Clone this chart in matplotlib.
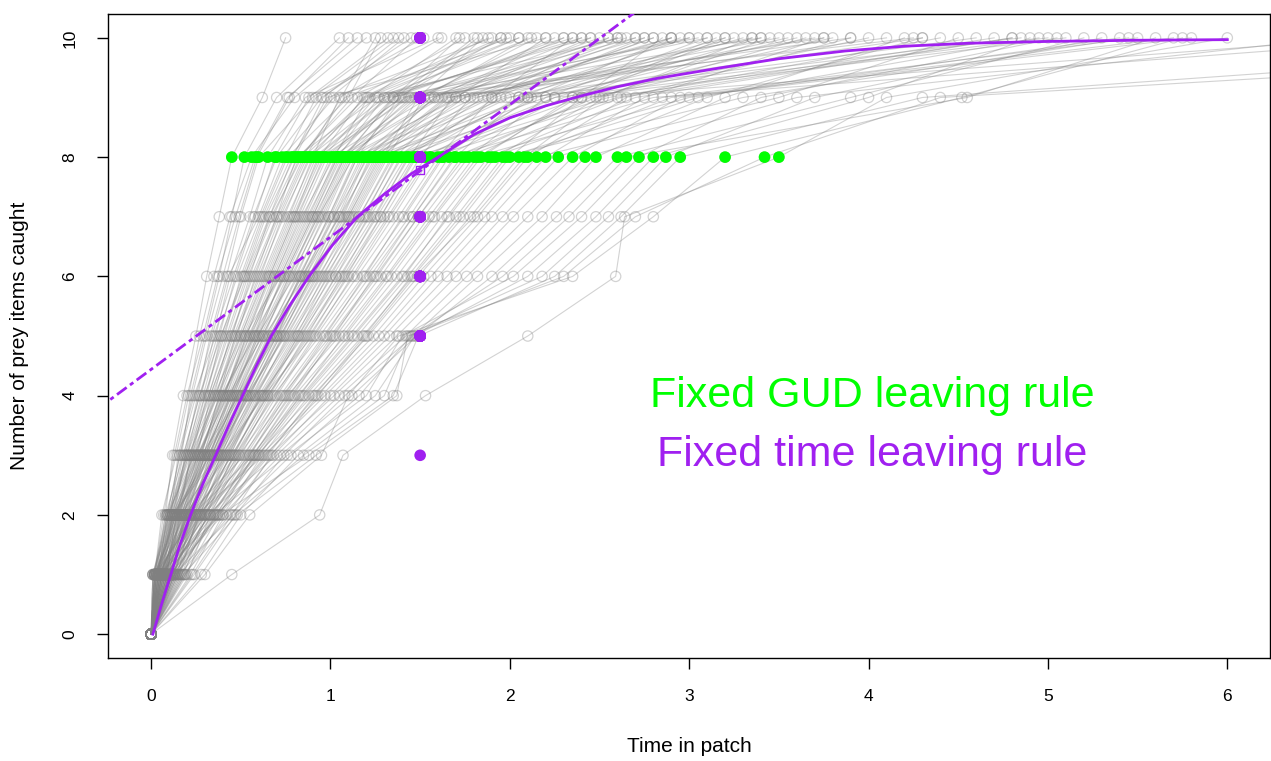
import numpy as np
import matplotlib
matplotlib.use("Agg")
import matplotlib.pyplot as plt

plt.rcParams['font.family'] = ['Liberation Sans', 'DejaVu Sans']

# capture times (time in patch at which item 1..10 was caught), one row per forager
capture_times = [
    [0.03, 0.08, 0.12, 0.18, 0.25, 0.31, 0.38, 0.45, 0.62, 0.75],
    [0.05, 0.10, 0.17, 0.22, 0.30, 0.38, 0.45, 0.52, 0.70, 1.05],
    [0.02, 0.06, 0.14, 0.21, 0.27, 0.35, 0.44, 0.56, 0.80, 1.20],
    [0.08, 0.13, 0.19, 0.26, 0.33, 0.42, 0.50, 0.60, 0.90, 1.35],
    [0.04, 0.11, 0.15, 0.24, 0.36, 0.44, 0.55, 0.65, 0.86, 1.60],
    [0.06, 0.12, 0.20, 0.28, 0.35, 0.46, 0.57, 0.70, 0.95, 1.45],
    [0.01, 0.09, 0.16, 0.25, 0.34, 0.43, 0.60, 0.73, 1.02, 1.90],
    [0.10, 0.16, 0.22, 0.30, 0.41, 0.50, 0.62, 0.76, 1.10, 1.28],
    [0.03, 0.14, 0.23, 0.31, 0.39, 0.52, 0.64, 0.80, 0.98, 2.20],
    [0.07, 0.15, 0.26, 0.33, 0.45, 0.55, 0.66, 0.82, 1.15, 1.75],
    [0.05, 0.12, 0.25, 0.36, 0.48, 0.58, 0.70, 0.85, 1.20, 2.05],
    [0.12, 0.18, 0.28, 0.38, 0.47, 0.60, 0.74, 0.88, 1.30, 2.40],
    [0.02, 0.10, 0.21, 0.35, 0.50, 0.63, 0.77, 0.90, 1.05, 1.62],
    [0.09, 0.20, 0.30, 0.42, 0.53, 0.66, 0.80, 0.93, 1.40, 2.60],
    [0.04, 0.13, 0.27, 0.40, 0.55, 0.68, 0.82, 0.96, 1.25, 1.98],
    [0.15, 0.22, 0.33, 0.44, 0.57, 0.70, 0.85, 1.00, 1.55, 3.10],
    [0.06, 0.17, 0.29, 0.41, 0.52, 0.72, 0.88, 1.03, 1.35, 2.30],
    [0.03, 0.11, 0.24, 0.39, 0.58, 0.74, 0.90, 1.06, 1.62, 2.75],
    [0.11, 0.19, 0.32, 0.46, 0.60, 0.76, 0.93, 1.08, 1.45, 3.40],
    [0.08, 0.16, 0.26, 0.43, 0.62, 0.78, 0.95, 1.10, 1.50, 2.15],
    [0.02, 0.14, 0.31, 0.45, 0.59, 0.80, 0.97, 1.12, 1.70, 2.90],
    [0.13, 0.24, 0.35, 0.48, 0.64, 0.82, 1.00, 1.15, 1.38, 1.95],
    [0.05, 0.18, 0.30, 0.50, 0.66, 0.84, 1.02, 1.18, 1.80, 3.70],
    [0.07, 0.21, 0.34, 0.47, 0.63, 0.86, 1.05, 1.20, 1.58, 2.50],
    [0.10, 0.23, 0.37, 0.52, 0.68, 0.88, 1.07, 1.22, 1.90, 2.35],
    [0.04, 0.15, 0.28, 0.49, 0.70, 0.90, 1.08, 1.25, 1.65, 4.10],
    [0.16, 0.26, 0.39, 0.54, 0.72, 0.91, 1.10, 1.27, 1.75, 2.65],
    [0.01, 0.12, 0.33, 0.51, 0.69, 0.87, 1.12, 1.30, 2.00, 3.20],
    [0.09, 0.25, 0.40, 0.56, 0.74, 0.93, 1.14, 1.32, 1.52, 2.10],
    [0.06, 0.20, 0.36, 0.53, 0.75, 0.95, 1.16, 1.35, 2.10, 4.60],
    [0.14, 0.27, 0.42, 0.58, 0.77, 0.97, 1.18, 1.37, 1.85, 2.80],
    [0.03, 0.17, 0.38, 0.57, 0.78, 0.99, 1.20, 1.40, 1.95, 3.00],
    [0.11, 0.29, 0.44, 0.60, 0.80, 1.01, 1.22, 1.42, 2.25, 5.00],
    [0.07, 0.22, 0.41, 0.62, 0.82, 1.03, 1.24, 1.44, 1.68, 2.45],
    [0.18, 0.31, 0.46, 0.64, 0.83, 1.05, 1.26, 1.46, 2.05, 3.55],
    [0.05, 0.19, 0.43, 0.61, 0.85, 1.07, 1.28, 1.48, 2.40, 6.80],
    [0.12, 0.28, 0.47, 0.66, 0.86, 1.08, 1.30, 1.50, 1.78, 2.70],
    [0.08, 0.24, 0.45, 0.65, 0.88, 1.10, 1.32, 1.53, 2.15, 3.30],
    [0.02, 0.16, 0.39, 0.63, 0.90, 1.13, 1.35, 1.56, 2.60, 4.40],
    [0.20, 0.33, 0.50, 0.70, 0.92, 1.15, 1.38, 1.60, 1.90, 2.55],
    [0.10, 0.30, 0.48, 0.68, 0.94, 1.18, 1.41, 1.63, 2.30, 3.80],
    [0.04, 0.21, 0.52, 0.72, 0.96, 1.20, 1.44, 1.66, 2.80, 7.20],
    [0.15, 0.35, 0.55, 0.75, 0.98, 1.22, 1.46, 1.70, 2.05, 2.95],
    [0.06, 0.26, 0.49, 0.73, 1.00, 1.25, 1.49, 1.73, 2.45, 4.00],
    [0.13, 0.32, 0.54, 0.78, 1.03, 1.28, 1.52, 1.77, 2.20, 3.60],
    [0.09, 0.27, 0.51, 0.76, 1.05, 1.31, 1.55, 1.80, 3.00, 5.40],
    [0.03, 0.23, 0.57, 0.80, 1.08, 1.34, 1.58, 1.84, 2.35, 3.15],
    [0.17, 0.36, 0.58, 0.82, 1.10, 1.37, 1.62, 1.88, 2.70, 4.80],
    [0.11, 0.34, 0.56, 0.84, 1.12, 1.40, 1.66, 1.92, 2.50, 3.45],
    [0.07, 0.29, 0.60, 0.86, 1.15, 1.43, 1.70, 1.96, 3.30, 5.45],
    [0.22, 0.40, 0.62, 0.88, 1.18, 1.46, 1.74, 2.00, 2.40, 2.85],
    [0.05, 0.28, 0.59, 0.90, 1.21, 1.49, 1.78, 2.05, 2.90, 5.70],
    [0.14, 0.37, 0.64, 0.92, 1.24, 1.52, 1.82, 2.10, 2.65, 3.90],
    [0.09, 0.33, 0.61, 0.95, 1.27, 1.56, 1.86, 2.15, 3.50, 4.50],
    [0.02, 0.25, 0.63, 0.97, 1.30, 1.60, 1.90, 2.20, 2.75, 3.75],
    [0.19, 0.42, 0.68, 1.00, 1.33, 1.65, 1.96, 2.27, 3.10, 4.30],
    [0.12, 0.38, 0.66, 1.02, 1.37, 1.70, 2.02, 2.35, 2.95, 5.80],
    [0.06, 0.31, 0.70, 1.05, 1.42, 1.76, 2.10, 2.42, 3.60, 6.60],
    [0.24, 0.47, 0.74, 1.08, 1.46, 1.82, 2.18, 2.48, 3.20, 4.20],
    [0.10, 0.40, 0.72, 1.12, 1.48, 1.90, 2.26, 2.60, 3.90, 5.20],
    [0.16, 0.44, 0.78, 1.16, 1.45, 1.96, 2.33, 2.65, 4.55, 5.60],
    [0.08, 0.35, 0.76, 1.20, 1.40, 2.02, 2.40, 2.72, 3.40, 5.05],
    [0.28, 0.50, 0.82, 1.25, 1.47, 2.10, 2.48, 2.80, 4.00, 4.90],
    [0.13, 0.46, 0.85, 1.30, 1.44, 2.18, 2.55, 2.87, 3.70, 5.30],
    [0.04, 0.39, 0.88, 1.35, 1.49, 2.25, 2.62, 2.95, 4.30, 9.00],
    [0.30, 0.55, 0.95, 1.10, 1.38, 2.35, 2.80, 3.20, 4.52, 5.75],
    [0.45, 0.94, 1.07, 1.53, 2.10, 2.59, 2.64, 3.50, 4.10, 6.00],
    [0.18, 0.48, 0.92, 1.37, 1.43, 2.30, 2.70, 3.42, 4.40, 10.0],
    [0.02, 0.07, 0.13, 0.20, 0.29, 0.37, 0.47, 0.58, 0.76, 1.15],
    [0.06, 0.11, 0.18, 0.27, 0.37, 0.48, 0.61, 0.75, 0.92, 1.52],
    [0.04, 0.09, 0.20, 0.32, 0.42, 0.53, 0.67, 0.84, 1.08, 2.00],
    [0.09, 0.14, 0.24, 0.34, 0.46, 0.59, 0.72, 0.87, 1.22, 1.70],
    [0.01, 0.10, 0.22, 0.37, 0.49, 0.62, 0.76, 0.91, 1.32, 2.35],
    [0.07, 0.17, 0.27, 0.39, 0.51, 0.65, 0.79, 0.94, 1.18, 1.88],
    [0.11, 0.20, 0.31, 0.43, 0.56, 0.69, 0.83, 0.98, 1.42, 3.00],
    [0.03, 0.13, 0.26, 0.40, 0.54, 0.71, 0.86, 1.01, 1.27, 2.12],
    [0.05, 0.18, 0.29, 0.45, 0.60, 0.73, 0.89, 1.04, 1.60, 2.55],
    [0.13, 0.22, 0.34, 0.47, 0.61, 0.77, 0.92, 1.07, 1.36, 1.80],
    [0.02, 0.15, 0.30, 0.44, 0.62, 0.79, 0.94, 1.09, 1.72, 3.50],
    [0.08, 0.19, 0.35, 0.50, 0.65, 0.81, 0.96, 1.11, 1.48, 2.25],
    [0.04, 0.16, 0.32, 0.48, 0.67, 0.83, 0.99, 1.14, 1.88, 2.80],
    [0.10, 0.24, 0.38, 0.53, 0.70, 0.85, 1.01, 1.17, 1.56, 2.40],
    [0.06, 0.21, 0.36, 0.55, 0.71, 0.88, 1.04, 1.19, 1.98, 4.30],
    [0.15, 0.27, 0.41, 0.57, 0.73, 0.89, 1.06, 1.23, 1.64, 2.60],
    [0.03, 0.12, 0.37, 0.54, 0.74, 0.92, 1.09, 1.26, 2.20, 3.10],
    [0.12, 0.26, 0.43, 0.59, 0.76, 0.94, 1.11, 1.29, 1.49, 1.85],
    [0.05, 0.20, 0.40, 0.58, 0.79, 0.96, 1.13, 1.31, 1.82, 2.90],
    [0.09, 0.28, 0.44, 0.61, 0.81, 0.98, 1.16, 1.34, 2.35, 5.10],
    [0.17, 0.30, 0.46, 0.63, 0.82, 1.00, 1.19, 1.36, 1.70, 2.20],
    [0.02, 0.19, 0.42, 0.62, 0.84, 1.03, 1.21, 1.39, 2.08, 3.25],
    [0.07, 0.25, 0.45, 0.65, 0.87, 1.06, 1.25, 1.43, 1.92, 2.75],
    [0.13, 0.32, 0.49, 0.67, 0.89, 1.09, 1.28, 1.47, 2.55, 4.70],
    [0.04, 0.23, 0.47, 0.69, 0.91, 1.12, 1.33, 1.55, 2.25, 3.40],
    [0.10, 0.30, 0.53, 0.74, 0.97, 1.19, 1.40, 1.62, 2.12, 2.90],
    [0.19, 0.38, 0.57, 0.79, 1.02, 1.24, 1.46, 1.69, 2.48, 3.65],
    [0.06, 0.27, 0.55, 0.77, 1.01, 1.26, 1.49, 1.75, 2.62, 4.80],
    [0.14, 0.36, 0.60, 0.83, 1.07, 1.32, 1.57, 1.82, 2.38, 3.20],
    [0.08, 0.33, 0.58, 0.85, 1.13, 1.41, 1.65, 1.90, 2.85, 5.50],
    [0.23, 0.45, 0.67, 0.93, 1.20, 1.47, 1.80, 2.08, 2.52, 3.35],
    [0.11, 0.37, 0.65, 0.91, 1.19, 1.45, 1.72, 1.98, 3.05, 4.95],
    [0.04, 0.09, 0.16, 0.23, 0.31, 0.40, 0.49, 0.59, 0.77, 1.10],
    [0.07, 0.12, 0.19, 0.29, 0.38, 0.47, 0.58, 0.69, 0.88, 1.32],
    [0.02, 0.08, 0.18, 0.27, 0.39, 0.51, 0.63, 0.78, 1.00, 1.41],
    [0.05, 0.15, 0.22, 0.32, 0.43, 0.54, 0.68, 0.83, 1.12, 1.48],
    [0.09, 0.14, 0.25, 0.35, 0.44, 0.57, 0.71, 0.86, 1.06, 1.25],
    [0.03, 0.10, 0.20, 0.30, 0.40, 0.52, 0.66, 0.79, 0.96, 1.38],
    [0.06, 0.13, 0.23, 0.36, 0.47, 0.61, 0.73, 0.89, 1.19, 1.95],
    [0.01, 0.11, 0.21, 0.33, 0.45, 0.56, 0.70, 0.81, 1.26, 2.45],
    [0.08, 0.17, 0.28, 0.38, 0.50, 0.64, 0.78, 0.92, 1.33, 3.05],
    [0.04, 0.12, 0.26, 0.41, 0.53, 0.67, 0.81, 0.97, 1.39, 1.82],
    [0.10, 0.19, 0.30, 0.44, 0.58, 0.69, 0.84, 1.02, 1.21, 2.62],
    [0.02, 0.09, 0.24, 0.37, 0.52, 0.66, 0.80, 0.95, 1.44, 4.25],
    [0.06, 0.16, 0.27, 0.42, 0.55, 0.72, 0.87, 1.04, 1.30, 2.05],
    [0.11, 0.21, 0.33, 0.46, 0.59, 0.74, 0.90, 1.05, 1.47, 3.90],
    [0.03, 0.14, 0.29, 0.40, 0.57, 0.75, 0.91, 1.08, 1.35, 1.72],
    [0.07, 0.18, 0.32, 0.48, 0.63, 0.77, 0.93, 1.13, 1.41, 2.70],
    [0.05, 0.22, 0.35, 0.51, 0.68, 0.83, 0.99, 1.15, 1.75, 3.35],
    [0.12, 0.25, 0.39, 0.53, 0.70, 0.86, 1.02, 1.21, 1.58, 2.30],
    [0.02, 0.13, 0.34, 0.49, 0.66, 0.84, 1.05, 1.24, 2.10, 4.85],
    [0.09, 0.20, 0.37, 0.55, 0.72, 0.90, 1.10, 1.28, 1.66, 3.75],
]

gud_items = 8          # fixed GUD: leave after 8 items
fixed_time = 1.5       # fixed time: leave at t = 1.5

# mean gain curve
gain_t = [0.01, 0.06, 0.11, 0.16, 0.22, 0.29, 0.36, 0.43, 0.51, 0.59, 0.67, 0.77,
          0.88, 1.01, 1.15, 1.30, 1.45, 1.60, 1.80, 2.00, 2.20, 2.39, 2.60, 2.82,
          3.18, 3.50, 3.87, 4.20, 4.56, 5.00, 5.50, 6.00]
gain_y = [0.0, 0.52, 1.0, 1.49, 2.0, 2.53, 3.0, 3.48, 4.0, 4.52, 5.0, 5.50,
          6.0, 6.52, 7.0, 7.38, 7.72, 8.0, 8.38, 8.66, 8.86, 9.02, 9.18, 9.32,
          9.50, 9.65, 9.78, 9.86, 9.91, 9.94, 9.96, 9.97]

# tangent line (dashed) from the travel-time origin
tangent_x = [-2.0, 3.0]
tangent_y = [0.0, 11.1]

purple = '#A020F0'
green = '#00FF00'

fig = plt.figure(figsize=(12.71, 7.61), dpi=100)
ax = fig.add_axes([0.085, 0.1353, 0.9145, 0.8463])

counts_at_T = []
for row in capture_times:
    t = np.concatenate([[0.0], row])
    k = np.arange(len(t))
    ax.plot(t, k, color='#808080', alpha=0.35, lw=0.8, zorder=1)
    ax.scatter(t, k, s=55, facecolors='none', edgecolors='#808080',
               alpha=0.35, linewidths=0.9, zorder=2)
    counts_at_T.append(int(np.sum(np.array(row) <= fixed_time)))

gud_times = [row[gud_items - 1] for row in capture_times]
ax.scatter(gud_times, [gud_items] * len(gud_times), s=70, color=green,
           edgecolors='none', zorder=3)

ax.scatter([fixed_time] * len(counts_at_T), counts_at_T, s=70, color=purple,
           edgecolors='none', zorder=4)
ax.scatter([fixed_time], [np.mean(counts_at_T)], s=35, marker='s',
           facecolors='none', edgecolors=purple, linewidths=1.0, zorder=4)

ax.plot(gain_t, gain_y, color=purple, lw=2.0, zorder=5)
ax.plot(tangent_x, tangent_y, color=purple, lw=2.0, zorder=5,
        dashes=(4.3, 1.5, 1.5, 1.5))

ax.text(4.02, 4.0, 'Fixed GUD leaving rule', color=green, fontsize=31,
        ha='center', va='center')
ax.text(4.02, 3.0, 'Fixed time leaving rule', color=purple, fontsize=31,
        ha='center', va='center')

ax.set_xlim(-0.24, 6.24)
ax.set_ylim(-0.4, 10.4)
ax.set_xticks(range(0, 7))
ax.set_yticks(range(0, 11, 2))
ax.tick_params(direction='out', length=8, width=1, labelsize=12.5, pad=14)
ax.tick_params(axis='y', labelrotation=90)
for lab in ax.get_yticklabels():
    lab.set_va('center')
for s in ax.spines.values():
    s.set_linewidth(1.0)
ax.set_xlabel('Time in patch', fontsize=15, labelpad=24)
ax.set_ylabel('Number of prey items caught', fontsize=15, labelpad=24)

fig.savefig('out.png', dpi=100)
